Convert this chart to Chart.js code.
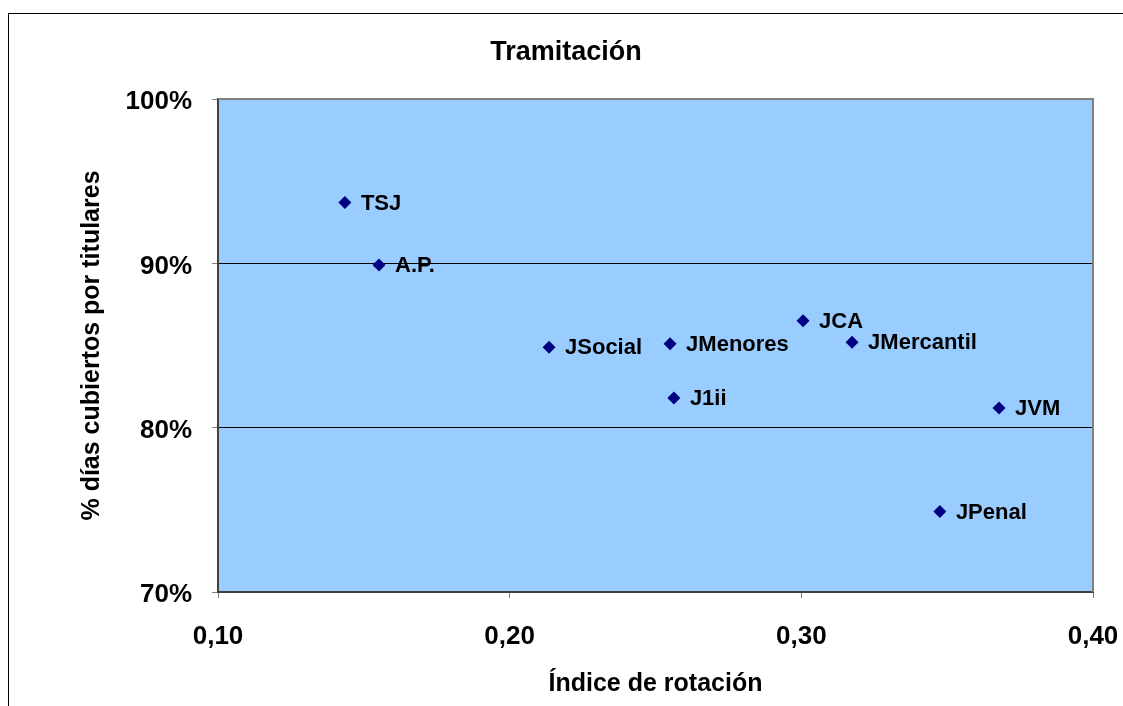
<!DOCTYPE html>
<html><head><meta charset="utf-8">
<script src="https://cdn.jsdelivr.net/npm/chart.js@4"></script>
<style>
html,body{margin:0;padding:0;background:#fff;overflow:hidden}
#wrap{position:relative;width:1123px;height:706px}
#marco{position:absolute;left:8px;top:13px;width:1200px;height:800px;border:1px solid #000;box-sizing:border-box}
canvas{position:absolute;left:0;top:0}
</style></head>
<body>
<div id="wrap"><div id="marco"></div><canvas id="c" width="1123" height="706"></canvas></div>
<script>
// datos
const nombres=["TSJ","A.P.","JSocial","JMenores","J1ii","JCA","JMercantil","JVM","JPenal"];
const rotacion=[0.1435,0.1552,0.2135,0.2550,0.2563,0.3006,0.3174,0.3678,0.3475];
const cubiertos=[93.7,89.9,84.9,85.1,81.8,86.5,85.2,81.2,74.9];
const ticksX=[0.10,0.20,0.30,0.40];
const ticksY=[70,80,90,100];

const fuente="'Liberation Sans', Arial, sans-serif";

const fondo={
 id:"fondo",
 beforeDraw(ch){
  const a=ch.chartArea,c=ch.ctx;
  c.save();
  c.fillStyle="#99CCFF";
  c.fillRect(a.left,a.top,a.right-a.left,a.bottom-a.top);
  c.restore();
 },
 beforeDatasetsDraw(ch){
  const a=ch.chartArea,c=ch.ctx;
  c.save();
  c.strokeStyle="#808080";c.lineWidth=2;
  c.beginPath();
  c.moveTo(a.left,a.top);c.lineTo(a.right,a.top);c.lineTo(a.right,a.bottom);
  c.stroke();
  c.restore();
 },
 afterDatasetsDraw(ch){
  const c=ch.ctx;
  c.save();
  c.fillStyle="#000";
  c.textBaseline="middle";c.textAlign="left";
  c.font="bold 22px "+fuente;
  ch.getDatasetMeta(0).data.forEach((p,i)=>{
   c.fillText(nombres[i],p.x+16,p.y+1);
  });
  c.textAlign="center";
  c.font="bold 27px "+fuente;
  c.fillText("Tramitación",566,53);
  c.restore();
 }
};

new Chart(document.getElementById("c"),{
 type:"scatter",
 data:{datasets:[{
  data:rotacion.map((x,i)=>({x,y:cubiertos[i]})),
  pointStyle:"rectRot",pointRadius:6.5,
  backgroundColor:"#000080",borderColor:"#000080",borderWidth:0
 }]},
 options:{
  responsive:false,animation:false,devicePixelRatio:1,
  layout:{padding:{top:99,right:30,left:0,bottom:0}},
  plugins:{legend:{display:false},tooltip:{enabled:false},title:{display:false}},
  scales:{
   x:{
    type:"linear",min:0.1,max:0.4,
    afterBuildTicks:s=>{s.ticks=ticksX.map(v=>({value:v}));},
    afterFit:s=>{s.height=114;s.paddingLeft=0;s.paddingRight=0;},
    grid:{drawOnChartArea:false,tickLength:6,tickColor:"#808080",tickWidth:1},
    border:{color:"#404040",width:2},
    ticks:{padding:23,color:"#000",font:{family:fuente,size:26,weight:"bold"},
     callback:v=>v.toFixed(2).replace(".",",")},
    title:{display:true,text:"Índice de rotación",color:"#000",
     font:{family:fuente,size:25,weight:"bold"},padding:{top:0,bottom:7}}
   },
   y:{
    type:"linear",min:70,max:100,
    afterBuildTicks:s=>{s.ticks=ticksY.map(v=>({value:v}));},
    afterFit:s=>{s.width=218;s.paddingTop=0;s.paddingBottom=0;},
    grid:{color:ctx=>(ctx.tick&&(ctx.tick.value===80||ctx.tick.value===90))?"#000":"rgba(0,0,0,0)",
     lineWidth:1,tickLength:6,tickColor:"#808080",tickWidth:1},
    border:{color:"#404040",width:2},
    ticks:{padding:20,labelOffset:3,color:"#000",font:{family:fuente,size:26,weight:"bold"},
     callback:v=>v+"%"},
    title:{display:true,text:"% días cubiertos por titulares",color:"#000",
     font:{family:fuente,size:25,weight:"bold"},padding:{top:77,bottom:0}}
   }
  }
 },
 plugins:[fondo]
});
</script>
</body></html>
